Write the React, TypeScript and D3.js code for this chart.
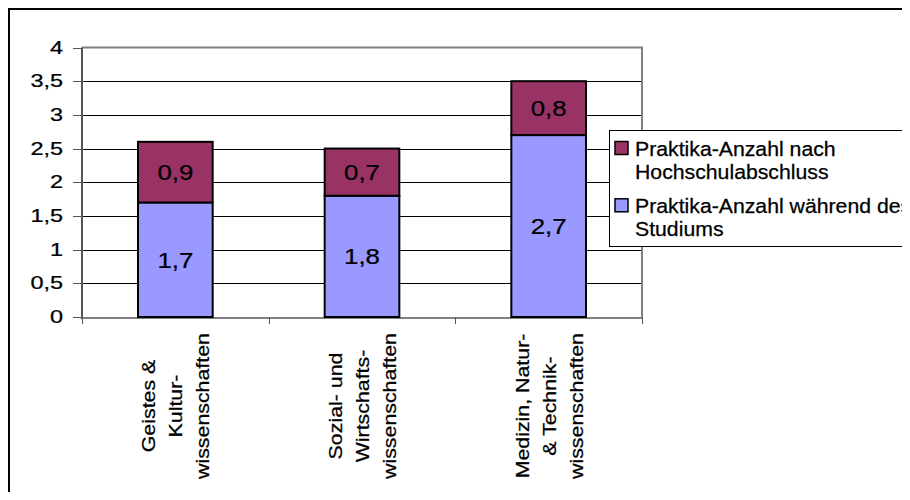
import React from 'react';
import * as d3 from 'd3';

const categoryLines: string[][] = [
  ['Geistes &', 'Kultur-', 'wissenschaften'],
  ['Sozial- und', 'Wirtschafts-', 'wissenschaften'],
  ['Medizin, Natur-', '& Technik-', 'wissenschaften'],
];
const duringStudy = [1.7, 1.8, 2.7];
const afterGraduation = [0.9, 0.7, 0.8];
const yTicks = [0, 0.5, 1, 1.5, 2, 2.5, 3, 3.5, 4];
const seriesKeys = ['during', 'after'];
const seriesColors = ['#9999FF', '#993366'];
const legendEntries: { key: string; lines: string[] }[] = [
  { key: 'after', lines: ['Praktika-Anzahl nach', 'Hochschulabschluss'] },
  { key: 'during', lines: ['Praktika-Anzahl während des', 'Studiums'] },
];

const FONT = "'Liberation Sans', Arial, Helvetica, sans-serif";
const W = 902;
const H = 484;

const fmt = (v: number) => (Number.isInteger(v) ? String(v) : v.toFixed(1)).replace('.', ',');

function T(props: {
  x: number;
  y: number;
  rot?: number;
  s?: number;
  size: number;
  anchor?: string;
  children: React.ReactNode;
}) {
  const { x, y, rot = 0, s = 1, size, anchor = 'start', children } = props;
  return (
    <text
      transform={`translate(${x},${y})${rot ? ` rotate(${rot})` : ''} scale(${s},1)`}
      fontSize={size}
      fontFamily={FONT}
      textAnchor={anchor}
      fill="#000"
      stroke="#000"
      strokeWidth={0.25}
    >
      {children}
    </text>
  );
}

export default function App() {
  const rows = categoryLines.map((_, i) => ({ idx: i, during: duringStudy[i], after: afterGraduation[i] }));
  const stacked = d3.stack<any>().keys(seriesKeys)(rows);

  const left = 74;
  const right = 634;
  const x = d3.scaleBand<number>().domain(rows.map((r) => r.idx)).range([left, right]).padding(0);
  const y = d3.scaleLinear().domain([0, 4]).range([309, 39.5]);
  const bw = x.bandwidth();
  const barW = bw * 0.4;
  const crisp = (v: number) => Math.round(v) + 0.5;
  const colorOf = (k: string) => seriesColors[seriesKeys.indexOf(k)];

  const boundaries = d3.range(rows.length + 1).map((i) => left + i * bw);

  return (
    <div style={{ width: W, height: H, overflow: 'hidden' }}>
      <svg width={W} height={H} style={{ display: 'block' }}>
        <rect x={0} y={0} width={W} height={H} fill="#fff" />
        {/* outer chart frame (right/bottom sides fall outside the view) */}
        <rect x={1} y={1} width={W + 40} height={H + 40} fill="none" stroke="#000" strokeWidth={2} />

        {/* gridlines */}
        {yTicks.slice(1, -1).map((t) => (
          <line key={t} x1={left} x2={right} y1={crisp(y(t))} y2={crisp(y(t))} stroke="#000" strokeWidth={1} />
        ))}
        {/* plot area border top/right */}
        <line x1={left} x2={right + 1} y1={y(4)} y2={y(4)} stroke="#808080" strokeWidth={2} />
        <line x1={right} x2={right} y1={y(4)} y2={y(0)} stroke="#808080" strokeWidth={2} />

        {/* bottom axis */}
        <line x1={left} x2={right + 1} y1={y(0) + 1} y2={y(0) + 1} stroke="#808080" strokeWidth={2} />
        {boundaries.map((bx, i) => (
          <line key={i} x1={crisp(bx)} x2={crisp(bx)} y1={y(0)} y2={y(0) + 7} stroke="#555" strokeWidth={1} />
        ))}

        {/* left axis */}
        <line x1={left} x2={left} y1={y(4)} y2={y(0) + 2} stroke="#555" strokeWidth={2} />
        {yTicks.map((t) => (
          <line key={t} x1={left - 9} x2={left} y1={crisp(y(t))} y2={crisp(y(t))} stroke="#555" strokeWidth={1} />
        ))}
        {yTicks.map((t) => (
          <T key={t} x={55} y={y(t) + 6} s={1.34} size={17.5} anchor="end">
            {fmt(t)}
          </T>
        ))}

        {/* bars */}
        {stacked.map((series) =>
          series.map((d, i) => {
            const bx = (x(rows[i].idx) as number) + bw * 0.3;
            const y0 = y(d[0]);
            const y1 = y(d[1]);
            return (
              <rect
                key={series.key + i}
                x={bx}
                y={y1}
                width={barW}
                height={y0 - y1}
                fill={colorOf(series.key)}
                stroke="#000"
                strokeWidth={2}
              />
            );
          })
        )}
        {/* data labels */}
        {stacked.map((series) =>
          series.map((d, i) => {
            const cx = (x(rows[i].idx) as number) + bw / 2;
            const cy = (y(d[0]) + y(d[1])) / 2;
            return (
              <T key={'l' + series.key + i} x={cx} y={cy + 7.8} s={1.2} size={21.5} anchor="middle">
                {fmt(d[1] - d[0])}
              </T>
            );
          })
        )}

        {/* category labels */}
        {categoryLines.map((lines, i) => {
          const cx = (x(rows[i].idx) as number) + bw / 2;
          return lines.map((ln, j) => (
            <T key={i + '-' + j} x={cx + 7 + (j - 1) * 27} y={398} rot={-90} s={1.22} size={17.5} anchor="middle">
              {ln}
            </T>
          ));
        })}

        {/* legend */}
        <rect x={601.5} y={122.5} width={400} height={116} fill="#fff" stroke="#000" strokeWidth={1} />
        {legendEntries.map((e, i) => {
          const top = 133.5 + i * 57.3;
          return (
            <g key={e.key}>
              <rect x={607} y={top} width={13} height={13} fill={colorOf(e.key)} stroke="#000" strokeWidth={1.5} />
              {e.lines.map((ln, j) => (
                <T key={j} x={627} y={top + 14 + j * 23.6} s={1.09} size={19.5} anchor="start">
                  {ln}
                </T>
              ))}
            </g>
          );
        })}
      </svg>
    </div>
  );
}
